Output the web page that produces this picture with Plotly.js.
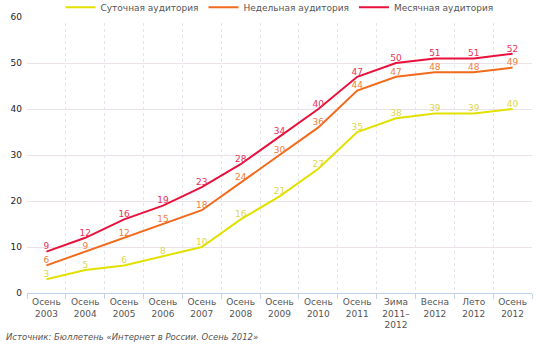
<!DOCTYPE html>
<html><head><meta charset="utf-8">
<script src="https://cdn.plot.ly/plotly-3.0.1.min.js"></script>
<style>body{margin:0}#c{width:540px;height:344px}</style>
</head><body><div id="c"></div>
<script>
const categories = ["Осень<br>2003","Осень<br>2004","Осень<br>2005","Осень<br>2006","Осень<br>2007","Осень<br>2008","Осень<br>2009","Осень<br>2010","Осень<br>2011","Зима<br>2011–<br>2012","Весна<br>2012","Лето<br>2012","Осень<br>2012"];
const daily = [3,5,6,8,10,16,21,27,35,38,39,39,40];
const weekly = [6,9,12,15,18,24,30,36,44,47,48,48,49];
const monthly = [9,12,16,19,23,28,34,40,47,50,51,51,52];
const names = ["Суточная аудитория","Недельная аудитория","Месячная аудитория"];
const ticks = [0,10,20,30,40,50,60];

function tr(y, name, lc, tc){
  return {x: categories, y: y, name: name, type:'scatter', mode:'lines+text',
    text: y.map(String), textposition:'top center',
    textfont:{family:'DejaVu Sans', size:9, color:tc},
    line:{color:lc, width:2}, hoverinfo:'none'};
}
const data = [
  tr(daily, names[0], '#e2e000', '#e0d64a'),
  tr(weekly, names[1], '#f26a1b', '#f0803c'),
  tr(monthly, names[2], '#e8113c', '#e8305a')
];
const layout = {
  width:540, height:344,
  margin:{l:27, r:8, t:17, b:51, autoexpand:false},
  paper_bgcolor:'#fff', plot_bgcolor:'#fff',
  font:{family:'DejaVu Sans', size:9, color:'#333'},
  showlegend:true,
  legend:{orientation:'h', x:0.5, xanchor:'center', y:1.035, yanchor:'middle',
    font:{family:'DejaVu Sans', size:9, color:'#555'}, itemwidth:30, traceorder:'normal'},
  xaxis:{type:'category', tickson:'boundaries', ticks:'outside', ticklen:5, tickcolor:'#c8d4e6',
    showgrid:true, gridcolor:'#e4e4ec', griddash:'dot', showline:true, linecolor:'#c0d0e8',
    tickfont:{family:'DejaVu Sans', size:9, color:'#555'}, range:[-0.5,12.5], fixedrange:true},
  yaxis:{range:[0,60], tickvals:ticks, ticktext:ticks.map(String), showgrid:true,
    gridcolor:'#ece2ea', zeroline:false, showline:false,
    tickfont:{family:'DejaVu Sans', size:9, color:'#222'}, ticklabelstandoff:4},
  annotations:[{text:'<i>Источник: Бюллетень «Интернет в России. Осень 2012»</i>', xref:'paper', yref:'paper',
    x:-0.045, y:-0.135, xanchor:'left', yanchor:'top', showarrow:false,
    font:{family:'DejaVu Sans', size:8.5, color:'#555'}}]
};
Plotly.newPlot('c', data, layout, {displayModeBar:false, staticPlot:true});
</script></body></html>
